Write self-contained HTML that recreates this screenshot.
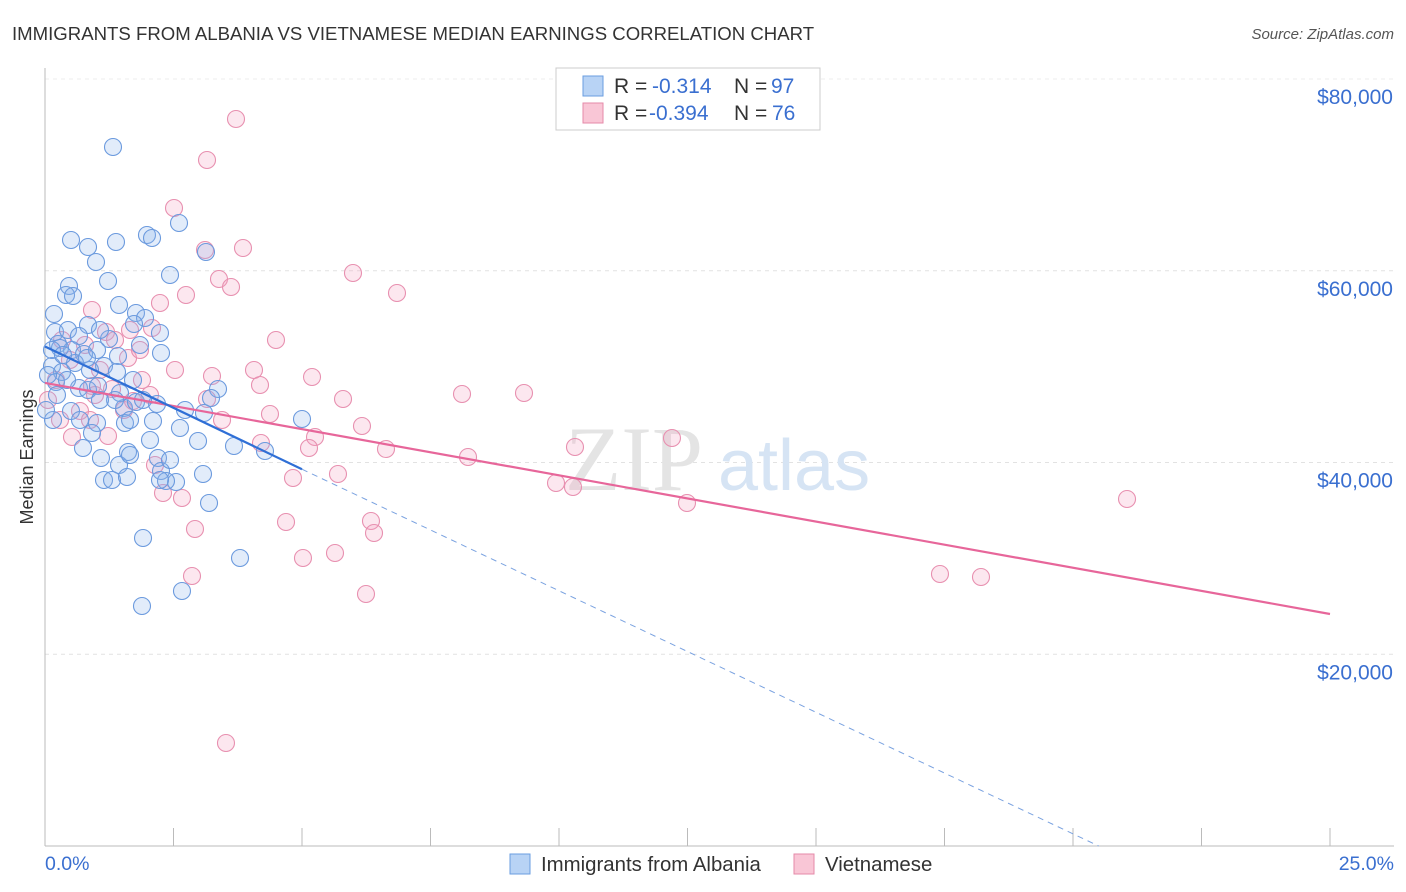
<!DOCTYPE html>
<html><head><meta charset="utf-8">
<style>
body{margin:0;background:#fff;font-family:"Liberation Sans",sans-serif;}
#wrap{position:relative;width:1406px;height:892px;overflow:hidden;}
svg{position:absolute;left:0;top:0;}
</style></head>
<body>
<div id="wrap">
<svg id="chart" width="1406" height="892">
  <text x="12" y="40" font-size="18.6" fill="#333">IMMIGRANTS FROM ALBANIA VS VIETNAMESE MEDIAN EARNINGS CORRELATION CHART</text>
  <text x="1394" y="39" font-size="15" fill="#555" font-style="italic" text-anchor="end">Source: ZipAtlas.com</text>
  <text transform="translate(33,457) rotate(-90)" font-size="18" fill="#333" text-anchor="middle">Median Earnings</text>
  <g id="grid"></g>
  <text x="565" y="490" font-size="92" fill="#e4e4e4" font-family="Liberation Serif,serif">ZIP</text>
  <text x="718" y="490" font-size="72" fill="#d6e4f4">atlas</text>
  <g id="pts"></g>
  <g id="lines"></g>
  <g>
    <rect x="556" y="68" width="264" height="62" fill="#fff" stroke="#ccc"/>
    <rect x="583" y="76" width="20" height="20" fill="#b8d3f5" stroke="#6a9ee0"/>
    <rect x="583" y="103" width="20" height="20" fill="#f9c6d6" stroke="#e58aa8"/>
    <text x="614" y="93" font-size="21" fill="#333">R =</text>
    <text x="652" y="93" font-size="21" fill="#3a6fd0">-0.314</text>
    <text x="734" y="93" font-size="21" fill="#333">N =</text>
    <text x="771" y="93" font-size="21" fill="#3a6fd0">97</text>
    <text x="614" y="120" font-size="21" fill="#333">R =</text>
    <text x="649" y="120" font-size="21" fill="#3a6fd0">-0.394</text>
    <text x="734" y="120" font-size="21" fill="#333">N =</text>
    <text x="772" y="120" font-size="21" fill="#3a6fd0">76</text>
  </g>
  <text x="45" y="870" font-size="19.5" fill="#3a6fd0">0.0%</text>
  <text x="1394" y="870" font-size="19.5" fill="#3a6fd0" text-anchor="end">25.0%</text>
  <rect x="510" y="854" width="20" height="20" fill="#b8d3f5" stroke="#6a9ee0"/>
  <text x="541" y="871" font-size="20.4" fill="#333">Immigrants from Albania</text>
  <rect x="794" y="854" width="20" height="20" fill="#f9c6d6" stroke="#e58aa8"/>
  <text x="825" y="871" font-size="20.4" fill="#333">Vietnamese</text>
</svg>
</div>
<script>
const yTicks=[20000,40000,60000,80000];
const yTickLabels=["$20,000","$40,000","$60,000","$80,000"];
const xTicks=[0,2.5,5,7.5,10,12.5,15,17.5,20,22.5,25];
const albaniaPx=[[113,147],[71,240],[88,247],[116,242],[147,235],[152,238],[179,223],[96,262],[170,275],[206,252],[69,286],[66,295],[73,296],[108,281],[54,314],[119,305],[136,313],[145,318],[134,324],[88,325],[55,332],[68,330],[79,336],[109,339],[160,333],[58,344],[72,350],[84,354],[97,350],[118,356],[161,353],[52,366],[62,372],[75,363],[104,366],[117,372],[133,380],[56,382],[79,388],[88,390],[98,386],[218,389],[211,398],[124,408],[157,404],[136,402],[185,410],[204,413],[71,411],[53,420],[97,423],[125,423],[153,421],[180,428],[92,433],[198,441],[234,446],[128,452],[83,448],[101,458],[158,458],[119,465],[265,451],[302,419],[161,471],[203,474],[104,480],[112,480],[127,477],[176,482],[166,481],[209,503],[143,538],[240,558],[182,591],[142,606],[46,410],[60,348],[90,370],[143,400],[130,455],[48,375],[57,395],[120,393],[150,440],[80,420],[100,330],[67,380],[130,420],[170,460],[52,350],[115,400],[63,355],[100,400],[87,358],[140,345],[160,480]];
const vietPx=[[236,119],[207,160],[174,208],[205,250],[243,248],[219,279],[231,287],[186,295],[353,273],[397,293],[160,303],[92,310],[152,328],[276,340],[106,332],[62,340],[128,358],[312,377],[254,370],[212,376],[142,380],[92,386],[112,389],[462,394],[524,393],[343,399],[207,399],[133,401],[124,410],[80,411],[270,414],[362,426],[222,420],[315,437],[261,443],[72,437],[108,436],[309,448],[386,449],[468,457],[575,447],[672,438],[155,465],[293,478],[338,474],[556,483],[573,487],[163,493],[182,498],[687,503],[1127,499],[371,521],[286,522],[374,533],[195,529],[335,553],[303,558],[192,576],[940,574],[981,577],[366,594],[226,743],[56,380],[70,360],[100,370],[48,400],[85,345],[140,350],[60,420],[115,340],[150,395],[130,330],[175,370],[95,395],[260,385],[90,420]];
const albaniaX=albaniaPx.map(p=>+((p[0]-45)/1285*25).toFixed(3));
const albaniaY=albaniaPx.map(p=>Math.round((846-p[1])/191.75*20000));
const vietX=vietPx.map(p=>+((p[0]-45)/1285*25).toFixed(3));
const vietY=vietPx.map(p=>Math.round((846-p[1])/191.75*20000));
const albaniaTrend=[[0,52100],[5,39300],[20.5,0]];
const vietTrend=[[0,48300],[25,24200]];

const X0=45,X1=1330,Y0=846;
const sx=v=>X0+v/25*(X1-X0);
const sy=v=>Y0-v/20000*191.75;
const NS="http://www.w3.org/2000/svg";
function mk(tag,attrs,parent){const e=document.createElementNS(NS,tag);for(const k in attrs)e.setAttribute(k,attrs[k]);parent.appendChild(e);return e;}
const grid=document.getElementById('grid');
yTicks.forEach((t,i)=>{
  const l=mk('line',{x1:X0,x2:1394,y1:sy(t),y2:sy(t),stroke:'#e2e2e2','stroke-dasharray':'4,4'},grid);
  
  
  const tx=mk('text',{x:1393,y:sy(t)+25,'font-size':21,fill:'#3a6fd0','text-anchor':'end'},grid);
  tx.textContent=yTickLabels[i];
  
  
});
const topLine=mk('line',{x1:X0,x2:1394,y1:79,y2:79,stroke:'#eee','stroke-dasharray':'4,4'},grid);


const ya=mk('line',{x1:X0,x2:X0,y1:68,y2:846,stroke:'#bbb'},grid);


const xa=mk('line',{x1:X0,x2:1394,y1:846,y2:846,stroke:'#bbb'},grid);


xTicks.forEach(t=>{
  const l=mk('line',{x1:sx(t),x2:sx(t),y1:828,y2:846,stroke:'#bbb'},grid);
  
  
});
const pts=document.getElementById('pts');
vietX.forEach((x,i)=>{
  const c=mk('circle',{cx:sx(x),cy:sy(vietY[i]),r:8.5,fill:'rgba(244,160,190,0.25)',stroke:'#e890b0','stroke-width':1.1},pts);
  
  
});
albaniaX.forEach((x,i)=>{
  const c=mk('circle',{cx:sx(x),cy:sy(albaniaY[i]),r:8.5,fill:'rgba(140,180,235,0.25)',stroke:'#6b9ade','stroke-width':1.1},pts);
  
  
});
const lines=document.getElementById('lines');
const vt=mk('line',{x1:sx(vietTrend[0][0]),y1:sy(vietTrend[0][1]),x2:sx(vietTrend[1][0]),y2:sy(vietTrend[1][1]),stroke:'#e7669a','stroke-width':2.2},lines);


const at=mk('line',{x1:sx(albaniaTrend[0][0]),y1:sy(albaniaTrend[0][1]),x2:sx(albaniaTrend[1][0]),y2:sy(albaniaTrend[1][1]),stroke:'#2f6fd6','stroke-width':2.2},lines);


const ad=mk('line',{x1:sx(albaniaTrend[1][0]),y1:sy(albaniaTrend[1][1]),x2:sx(albaniaTrend[2][0]),y2:sy(albaniaTrend[2][1]),stroke:'#7aa2e0','stroke-width':1,'stroke-dasharray':'6,5'},lines);


</script>
</body></html>
